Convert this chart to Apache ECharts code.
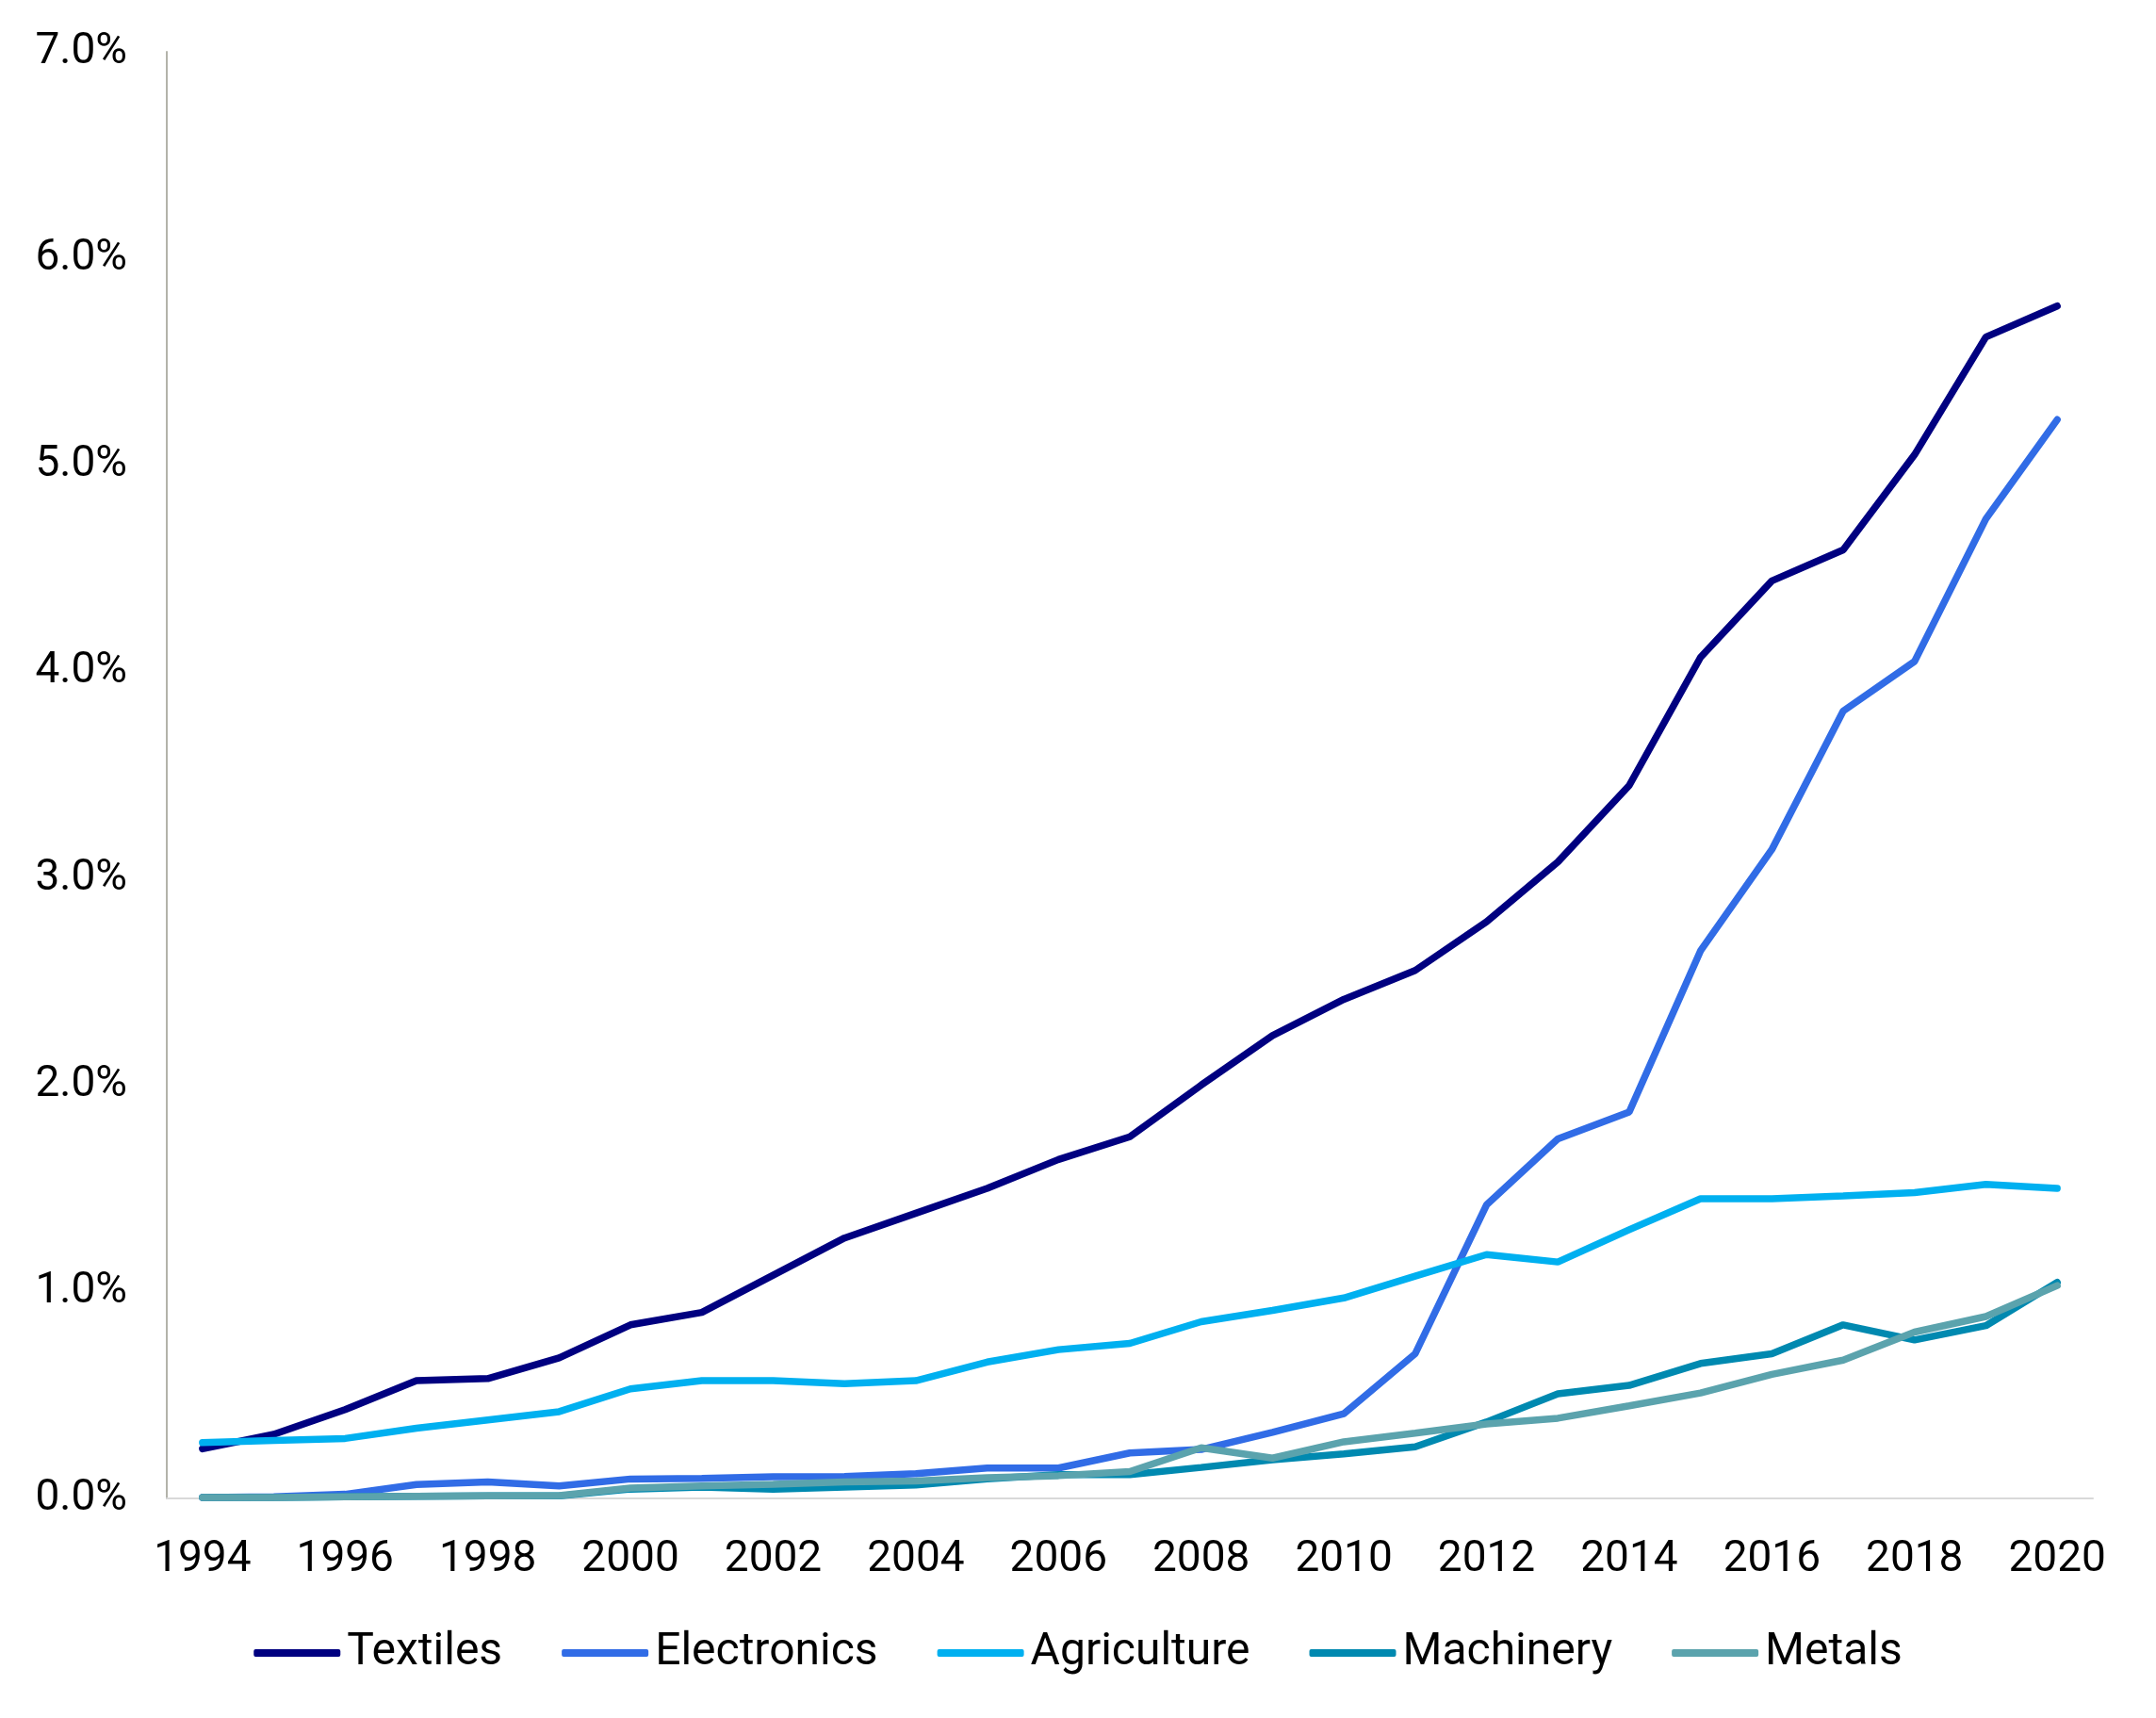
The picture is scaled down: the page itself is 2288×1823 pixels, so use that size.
<!DOCTYPE html>
<html>
<head>
<meta charset="utf-8">
<script src="https://cdn.jsdelivr.net/npm/echarts@6/dist/echarts.min.js"></script>
<style>
  html, body { margin: 0; padding: 0; background: #fff; }
  #chart { width: 2288px; height: 1823px; }
</style>
</head>
<body>
<div id="chart"></div>
<script>
// years on the x axis
const years = [];
for (let y = 1994; y <= 2020; y++) years.push(String(y));

// share values (%)
const textiles = [0.24, 0.31, 0.43, 0.57, 0.58, 0.68, 0.84, 0.90, 1.08, 1.26, 1.38, 1.50, 1.64, 1.75, 2.00, 2.24, 2.415, 2.555, 2.79, 3.08, 3.45, 4.07, 4.44, 4.59, 5.05, 5.62, 5.77];
const electronics = [0.005, 0.008, 0.02, 0.067, 0.08, 0.06, 0.094, 0.097, 0.105, 0.106, 0.12, 0.147, 0.147, 0.22, 0.237, 0.32, 0.41, 0.70, 1.42, 1.74, 1.87, 2.65, 3.14, 3.81, 4.05, 4.74, 5.22];
const agriculture = [0.27, 0.28, 0.29, 0.34, 0.38, 0.42, 0.53, 0.57, 0.57, 0.555, 0.57, 0.66, 0.72, 0.75, 0.855, 0.91, 0.97, 1.076, 1.18, 1.144, 1.30, 1.45, 1.45, 1.464, 1.48, 1.52, 1.50];
const machinery = [0.005, 0.005, 0.008, 0.01, 0.012, 0.012, 0.045, 0.055, 0.045, 0.055, 0.065, 0.095, 0.115, 0.115, 0.15, 0.187, 0.215, 0.25, 0.37, 0.506, 0.547, 0.653, 0.70, 0.84, 0.767, 0.836, 1.046];
const metals = [0.005, 0.005, 0.008, 0.01, 0.012, 0.014, 0.05, 0.06, 0.068, 0.08, 0.084, 0.10, 0.11, 0.13, 0.245, 0.195, 0.274, 0.316, 0.36, 0.388, 0.448, 0.51, 0.60, 0.669, 0.805, 0.88, 1.03];

const seriesNames = ['Textiles', 'Electronics', 'Agriculture', 'Machinery', 'Metals'];
const seriesData = [textiles, electronics, agriculture, machinery, metals];
const colors = ['#000080', '#316CE6', '#00B0F0', '#0089B0', '#5BA3AD'];

const chart = echarts.init(document.getElementById('chart'));

const font = 'Roboto, "Noto Sans", sans-serif';

const option = {
    animation: false,
    color: colors,
    grid: { left: 177, right: 67, top: 55, bottom: 233, containLabel: false },
    legend: {
        bottom: 40,
        left: 'center',
        icon: 'roundRect',
        itemWidth: 92,
        itemHeight: 8,
        itemGap: 63,
        textStyle: { fontFamily: font, fontSize: 48, color: '#000', padding: [0, 0, 0, 2] },
        data: seriesNames
    },
    xAxis: {
        type: 'category',
        data: years,
        boundaryGap: true,
        axisLine: { lineStyle: { color: '#D9D9D9', width: 2 } },
        axisTick: { show: false },
        axisLabel: { interval: 1, fontFamily: font, fontSize: 46, color: '#000', margin: 42 }
    },
    yAxis: {
        type: 'value',
        min: 0,
        max: 7,
        interval: 1,
        axisLine: { show: true, lineStyle: { color: '#B3B3AA', width: 2 } },
        axisTick: { show: false },
        splitLine: { show: false },
        axisLabel: {
            fontFamily: font, fontSize: 46, color: '#000', margin: 42,
            formatter: v => v.toFixed(1) + '%'
        }
    },
    series: seriesNames.map((name, i) => ({
        name: name,
        type: 'line',
        data: seriesData[i],
        showSymbol: false,
        symbol: 'none',
        lineStyle: { width: 7.5, color: colors[i], cap: 'round' },
        itemStyle: { color: colors[i] }
    }))
};

chart.setOption(option);
window.addEventListener('resize', () => chart.resize());
</script>
</body>
</html>
